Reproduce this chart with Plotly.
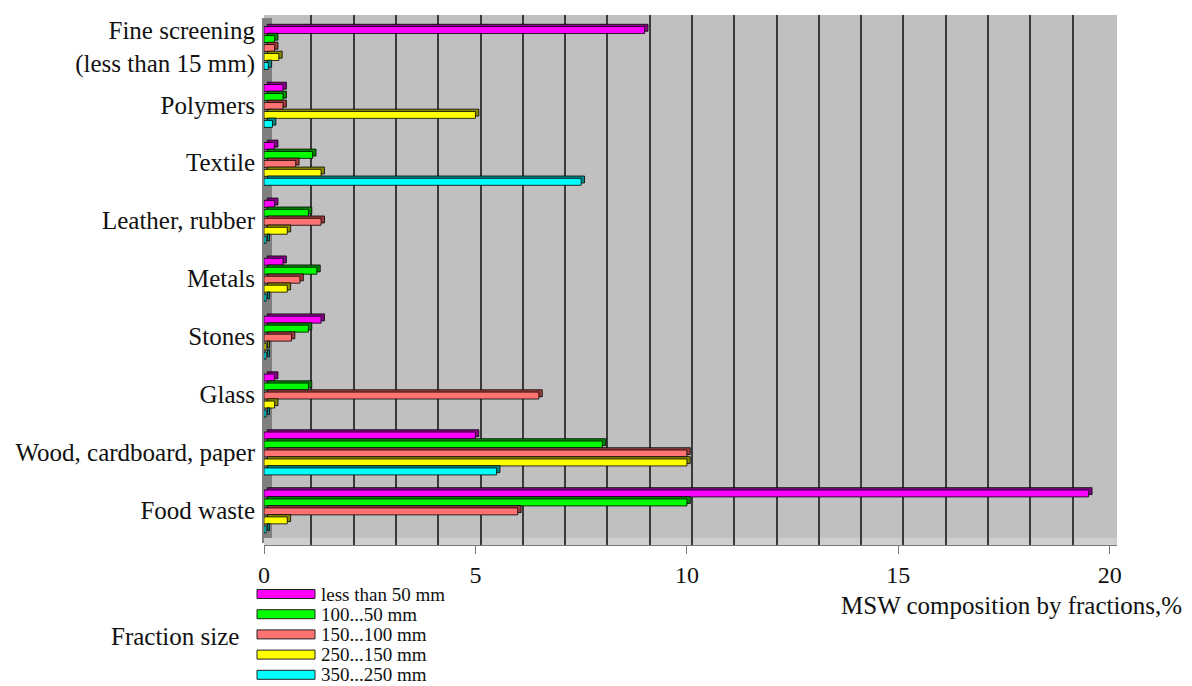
import plotly.graph_objects as go

# Waste categories (bottom to top) and fraction-size series
categories = [
    "Food waste",
    "Wood, cardboard, paper",
    "Glass",
    "Stones",
    "Metals",
    "Leather, rubber",
    "Textile",
    "Polymers",
    "Fine screening<br>(less than 15 mm)",
]
series_names = ["less than 50 mm", "100...50 mm", "150...100 mm", "250...150 mm", "350...250 mm"]

less_than_50 = [19.5, 5.0, 0.25, 1.35, 0.45, 0.25, 0.25, 0.45, 9.0]
mm_100_50 = [10.0, 8.0, 1.05, 1.05, 1.25, 1.05, 1.15, 0.45, 0.25]
mm_150_100 = [6.0, 10.0, 6.5, 0.65, 0.85, 1.35, 0.75, 0.45, 0.25]
mm_250_150 = [0.55, 10.0, 0.25, 0.05, 0.55, 0.55, 1.35, 5.0, 0.35]
mm_350_250 = [0.05, 5.5, 0.05, 0.05, 0.05, 0.05, 7.5, 0.2, 0.1]

x_ticks = [0, 5, 10, 15, 20]

series_values = [less_than_50, mm_100_50, mm_150_100, mm_250_150, mm_350_250]
face_colors = ["#ff00ff", "#00ff00", "#ff7373", "#ffff00", "#00ffff"]
side_colors = ["#8a008a", "#008a00", "#a03c3c", "#8a8a00", "#008a8a"]

SERIF = "Liberation Serif, Times New Roman, serif"

# Pixel frame of the plotting area inside the 1192x686 page
W, H = 1192, 686
PL, PR, PT, PB = 264, 1117, 15, 545
X_MAX = 20.17

def px_x(px):
    return (px - PL) / (PR - PL)

def px_y(py):
    return (PB - py) / (PB - PT)

fig = go.Figure()

step = 0.155      # spacing of bars inside a group (category units)
face_w = 0.12     # thickness of the front face
lift = 0.04       # upward shift of the depth face
depth = 0.08      # rightward shift of the depth face (value units)

for i, (name, vals) in enumerate(zip(series_names, series_values)):
    top = 0.39 - i * step
    off = top - face_w - lift
    # depth face drawn behind, shifted up and to the right for a 3-D look
    fig.add_trace(go.Bar(
        y=categories, x=vals, base=[depth] * len(vals), orientation="h",
        width=face_w, offset=off + lift,
        marker=dict(color=side_colors[i], line=dict(color="#000000", width=0.8)),
        showlegend=False, hoverinfo="skip",
    ))
    fig.add_trace(go.Bar(
        y=categories, x=vals, orientation="h", name=name,
        width=face_w, offset=off,
        marker=dict(color=face_colors[i], line=dict(color="#000000", width=0.8)),
        showlegend=False,
    ))

shapes = [
    # left side wall
    dict(type="rect", xref="paper", yref="paper", x0=px_x(262), x1=px_x(272),
         y0=px_y(543), y1=px_y(PT + 3), fillcolor="#7f7f7f", line=dict(width=0),
         layer="between"),
    # floor strip
    dict(type="rect", xref="paper", yref="paper", x0=px_x(264), x1=px_x(PR),
         y0=0, y1=px_y(538), fillcolor="#cfcfcf", line=dict(width=0),
         layer="between"),
]

annotations = []
# legend swatches and labels
for i, name in enumerate(series_names):
    cy = 594 + 20.2 * i
    shapes.append(dict(
        type="rect", xref="paper", yref="paper",
        x0=px_x(257), x1=px_x(315), y0=px_y(cy + 4.5), y1=px_y(cy - 4.5),
        fillcolor=face_colors[i], line=dict(color="#222222", width=1),
    ))
    annotations.append(dict(
        x=px_x(319), y=px_y(cy), xref="paper", yref="paper", text=name,
        showarrow=False, xanchor="left", yanchor="middle",
        font=dict(family=SERIF, size=19, color="#111111"),
    ))

annotations.append(dict(
    x=px_x(241), y=px_y(636), xref="paper", yref="paper", text="Fraction size",
    showarrow=False, xanchor="right", yanchor="middle",
    font=dict(family=SERIF, size=25, color="#111111"),
))
annotations.append(dict(
    x=px_x(1184), y=px_y(605), xref="paper", yref="paper",
    text="MSW composition by fractions,%",
    showarrow=False, xanchor="right", yanchor="middle",
    font=dict(family=SERIF, size=25, color="#111111"),
))

fig.update_layout(
    width=W, height=H,
    margin=dict(l=PL, r=W - PR, t=PT, b=H - PB),
    paper_bgcolor="#ffffff",
    plot_bgcolor="#c0c0c0",
    barmode="overlay",
    shapes=shapes,
    annotations=annotations,
    showlegend=False,
    font=dict(family=SERIF, color="#111111"),
)

fig.update_xaxes(
    range=[0, X_MAX],
    tickvals=x_ticks,
    ticktext=[str(v) for v in x_ticks],
    ticks="outside", ticklen=8, tickcolor="#7a7a7a", tickwidth=1,
    showgrid=False, zeroline=False,
    showline=True, linecolor="#7a7a7a", linewidth=1,
    tickfont=dict(family=SERIF, size=24, color="#111111"),
    minor=dict(tickvals=[k + 0.12 for k in range(1, 20)], showgrid=True,
               gridcolor="#3a3a3a", gridwidth=1.5, ticks=""),
    fixedrange=True,
)

fig.update_yaxes(
    categoryorder="array", categoryarray=categories,
    range=[-0.6, 8.55],
    showgrid=False, zeroline=False, showline=False, ticks="",
    ticklabelstandoff=8,
    tickfont=dict(family=SERIF, size=25, color="#111111"),
    fixedrange=True,
)

fig.write_html("out.html")
